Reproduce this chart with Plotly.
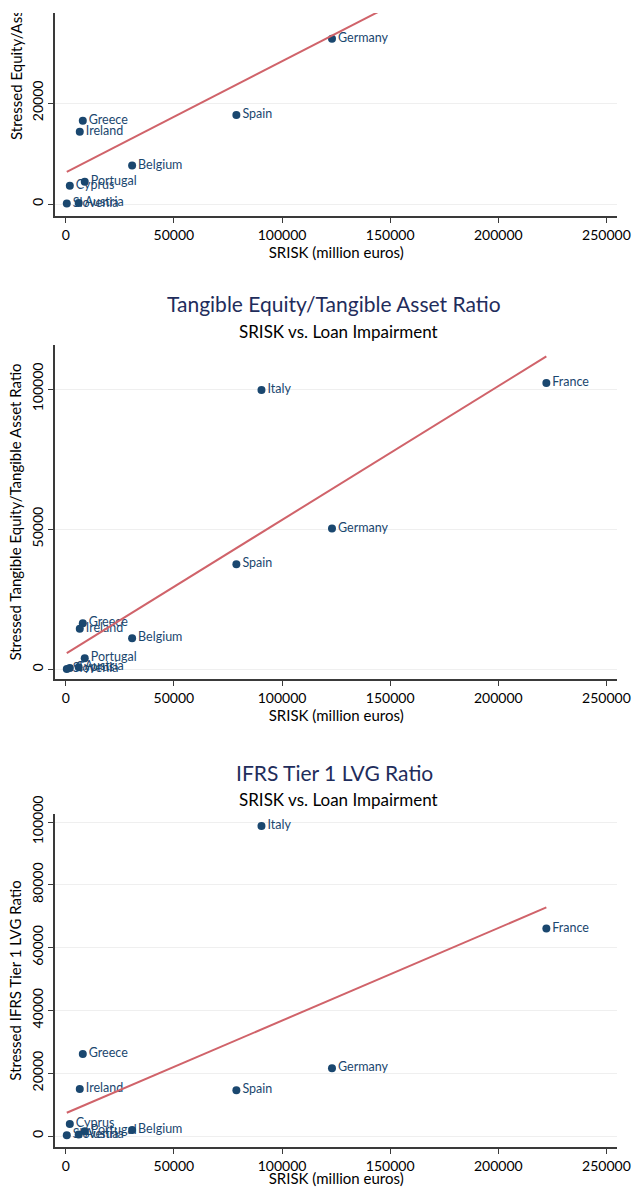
import numpy as np
import plotly.graph_objects as go

# ---- data -------------------------------------------------------------
countries = ["Germany", "Spain", "Italy", "France", "Belgium", "Greece",
             "Ireland", "Portugal", "Cyprus", "Slovenia", "Austria"]

# SRISK, million euros (same for every panel)
srisk = [123100, 78900, 90500, 222200, 30700, 7900, 6500, 8800, 1900, 500, 6000]

# stressed loan impairment under each capital-ratio scenario
equity_asset = [32700, 17600, 50400, 48400, 7600, 16500, 14300, 4400, 3600, 100, 200]
tangible_equity_asset = [50300, 37500, 99600, 102100, 11100, 16500, 14500, 4000, 500, 200, 800]
ifrs_tier1_lvg = [21600, 14600, 98700, 66100, 1900, 26100, 15000, 1500, 3800, 200, 500]

x_ticks = [0, 50000, 100000, 150000, 200000, 250000]

# ---- styling ----------------------------------------------------------
W, H = 635, 1187
FONT = "Lato"
NAVY = "#1a476f"
TITLE_NAVY = "#1f2d5c"
FIT_RED = "#d0636a"
AXIS = "#3a3a3a"


def py(px):
    """pixel row (from top) -> paper y"""
    return 1 - px / H


def pxx(px):
    """pixel column -> paper x"""
    return px / W


panels = [
    dict(y=equity_asset, ytitle="Stressed Equity/Asset Ratio", title=None,
         top=0, bottom=216, yrange=[-2376, 40396], yticks=[0, 20000, 40000]),
    dict(y=tangible_equity_asset,
         ytitle="Stressed Tangible Equity/Tangible Asset Ratio",
         title="Tangible Equity/Tangible Asset Ratio", title_y=304, sub_y=331,
         top=345, bottom=679, yrange=[-3387, 115686], yticks=[0, 50000, 100000]),
    dict(y=ifrs_tier1_lvg, ytitle="Stressed IFRS Tier 1 LVG Ratio",
         title="IFRS Tier 1 LVG Ratio", title_y=772, sub_y=799,
         top=814, bottom=1147, yrange=[-3503, 102548],
         yticks=[0, 20000, 40000, 60000, 80000, 100000]),
]

fig = go.Figure()
annotations = []
layout = dict(
    width=W, height=H, autosize=False,
    margin=dict(l=0, r=0, t=0, b=0),
    paper_bgcolor="white", plot_bgcolor="white",
    showlegend=False, template="none",
    font=dict(family=FONT, size=14, color="black"),
)

xs = np.array(srisk, dtype=float)
for i, p in enumerate(panels, start=1):
    xa, ya = f"x{i}", f"y{i}"
    ys = np.array(p["y"], dtype=float)

    # scatter with country labels
    fig.add_trace(go.Scatter(
        x=srisk, y=p["y"], mode="markers+text", text=countries,
        textposition="middle right",
        textfont=dict(family=FONT, size=12.5, color=NAVY),
        marker=dict(size=8, color=NAVY),
        xaxis=xa, yaxis=ya, cliponaxis=True, hoverinfo="skip",
    ))

    # linear fit over the SRISK range
    slope, intercept = np.polyfit(xs, ys, 1)
    fx = np.array([xs.min(), xs.max()])
    fig.add_trace(go.Scatter(
        x=fx, y=intercept + slope * fx, mode="lines",
        line=dict(color=FIT_RED, width=2),
        xaxis=xa, yaxis=ya, hoverinfo="skip",
    ))

    sfx = "" if i == 1 else str(i)
    layout["xaxis" + sfx] = dict(
        domain=[pxx(55), pxx(617.3)], anchor=ya, range=[-4950, 255000],
        tickvals=x_ticks, tickformat="d", ticks="outside", ticklen=5,
        tickcolor=AXIS, tickfont=dict(family=FONT, size=14, color="black"),
        showline=True, linecolor=AXIS, linewidth=1.5,
        showgrid=False, zeroline=False,
        title=dict(text="SRISK (million euros)", standoff=1,
                   font=dict(family=FONT, size=15, color="black")),
    )
    yax = dict(
        domain=[py(p["bottom"]), py(p["top"])], anchor=xa, range=p["yrange"],
        tickvals=p["yticks"], tickformat="d", tickangle=-90,
        ticks="outside", ticklen=5, tickcolor=AXIS,
        tickfont=dict(family=FONT, size=14, color="black"),
        showline=True, linecolor=AXIS, linewidth=1.5,
        showgrid=True, gridcolor="#efefef", gridwidth=1, zeroline=False,
    )
    if p["title"] is not None:
        yax["title"] = dict(text=p["ytitle"], standoff=3,
                            font=dict(family=FONT, size=15, color="black"))
        annotations.append(dict(
            text=p["title"], x=pxx(334), y=py(p["title_y"]), xref="paper",
            yref="paper", showarrow=False, xanchor="center", yanchor="middle",
            font=dict(family=FONT, size=21, color=TITLE_NAVY)))
        annotations.append(dict(
            text="SRISK vs. Loan Impairment", x=pxx(338), y=py(p["sub_y"]),
            xref="paper", yref="paper", showarrow=False, xanchor="center",
            yanchor="middle", font=dict(family=FONT, size=17, color="black")))
    layout["yaxis" + sfx] = yax

# first panel: its top runs past the page, so its axis title is centred higher
annotations.append(dict(
    text=panels[0]["ytitle"], textangle=-90, x=pxx(16), y=py(50),
    xref="paper", yref="paper", showarrow=False, xanchor="center",
    yanchor="middle", font=dict(family=FONT, size=15, color="black")))

# blank strip along the top edge of the page
annotations.append(dict(
    text=" ", x=0.5, y=1, xref="paper", yref="paper", xanchor="center",
    yanchor="top", showarrow=False, width=W, height=13, bgcolor="white",
    borderpad=0, borderwidth=0, font=dict(size=6)))

layout["annotations"] = annotations
fig.update_layout(**layout)
fig.write_html("out.html")
